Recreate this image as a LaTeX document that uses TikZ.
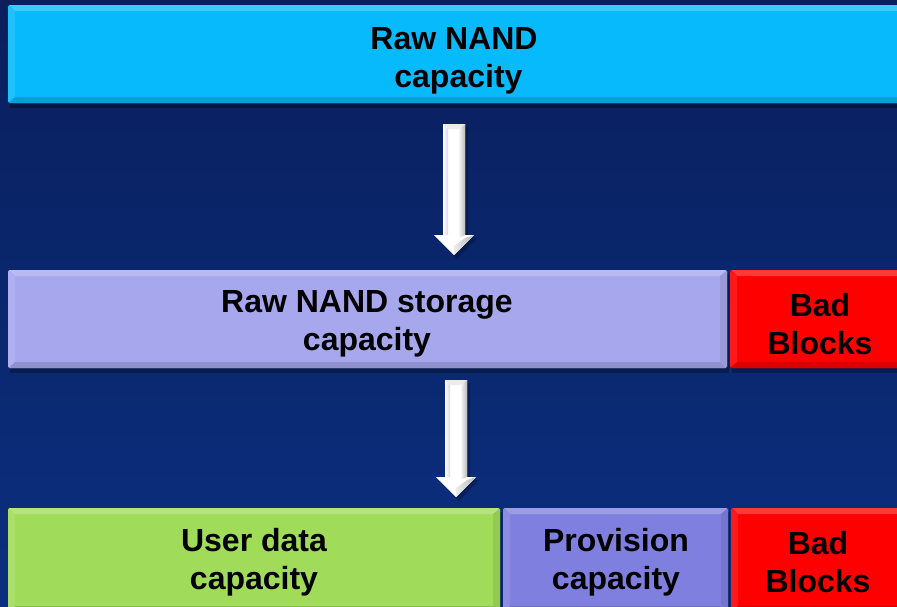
\documentclass[tikz,border=0pt]{standalone}
\usepackage{fontspec}
\setmainfont{Liberation Sans}
\usetikzlibrary{calc}
\definecolor{bgtop}{HTML}{0A1F5C}
\definecolor{bgbot}{HTML}{0B2F80}
\definecolor{cyanbox}{HTML}{06BAFB}
\definecolor{lavbox}{HTML}{A7A7EE}
\definecolor{redbox}{HTML}{FF0000}
\definecolor{greenbox}{HTML}{A0DC5A}
\definecolor{provbox}{HTML}{7F7FDF}
\tikzset{
  x=1pt, y=-1pt,
  lbl/.style={font=\fontsize{32}{38}\selectfont\bfseries, align=center, text=black},
}
% beveled block: #1 fill colour, #2 name, corners (x1,y1) (x2,y2)
\newcommand{\bevelbox}[6]{%
  \fill[black, opacity=0.3] (#3+2,#4+4) rectangle (#5+2,#6+5);
  \fill[#1, rounded corners=2pt] (#3,#4) rectangle (#5,#6);
  % top facet
  \fill[#1!78!white] (#3+1,#4) -- (#5-1,#4) -- (#5-7,#4+6) -- (#3+7,#4+6) -- cycle;
  % left facet
  \fill[#1!90!white] (#3,#4+1) -- (#3+7,#4+6) -- (#3+7,#6-6) -- (#3,#6-1) -- cycle;
  % right facet
  \fill[#1!92!black] (#5,#4+1) -- (#5-7,#4+6) -- (#5-7,#6-6) -- (#5,#6-1) -- cycle;
  % bottom facet
  \fill[#1!86!black] (#3+1,#6) -- (#5-1,#6) -- (#5-7,#6-6) -- (#3+7,#6-6) -- cycle;
  \node[inner sep=0, minimum width=#5-#3, minimum height=#6-#4] (#2) at ($(#3,#4)!0.5!(#5,#6)$) {};
}
% white block arrow: centre x, top y, head y, tip y
\newcommand{\blockarrow}[4]{%
  \fill[black, opacity=0.25] (#1-11+3,#2+3) -- (#1+11+3,#2+3) -- (#1+11+3,#3+3) -- (#1+20+3,#3+3)
        -- (#1+3,#4+4) -- (#1-20+3,#3+3) -- (#1-11+3,#3+3) -- cycle;
  \fill[white] (#1-11,#2) -- (#1+11,#2) -- (#1+11,#3) -- (#1+20,#3) -- (#1,#4) -- (#1-20,#3) -- (#1-11,#3) -- cycle;
  \shade[left color=white, right color=gray!55] (#1+4,#2+5) -- (#1+11,#2) -- (#1+11,#3) -- (#1+4,#3+3) -- cycle;
  \shade[left color=white, right color=gray!30] (#1-11,#2) -- (#1-6,#2+5) -- (#1-6,#3) -- (#1-11,#3) -- cycle;
  \fill[gray!15] (#1-11,#2) -- (#1+11,#2) -- (#1+4,#2+5) -- (#1-6,#2+5) -- cycle;
  \shade[left color=gray!15, right color=gray!55] (#1,#4-9) -- (#1+11,#3+3) -- (#1+20,#3) -- (#1,#4) -- cycle;
}
\begin{document}
\begin{tikzpicture}
\useasboundingbox (0,0) rectangle (897,606);
\shade[top color=bgtop, bottom color=bgbot] (0,0) rectangle (897,606);

\bevelbox{cyanbox}{raw}{8}{5}{910}{103}
\node[lbl] (rawtxt) at (454,61) {Raw NAND\\ \ capacity};

\blockarrow{454}{124}{235}{255}

\bevelbox{lavbox}{store}{8}{270}{727}{368}
\node[lbl] (storetxt) at (367,324) {Raw NAND storage\\capacity};
\bevelbox{redbox}{bad1}{730}{270}{912}{368}
\node[lbl] (bad1txt) at (820,324) {Bad\\Blocks};

\blockarrow{456}{380}{477}{497}

\bevelbox{greenbox}{user}{8}{508}{500}{612}
\node[lbl] (usertxt) at (254,562) {User data\\capacity};
\bevelbox{provbox}{prov}{503}{508}{728}{612}
\node[lbl] (provtxt) at (616,562) {Provision\\capacity};
\bevelbox{redbox}{bad2}{731}{508}{910}{612}
\node[lbl] (bad2txt) at (818,562) {Bad\\Blocks};
\end{tikzpicture}
\end{document}
